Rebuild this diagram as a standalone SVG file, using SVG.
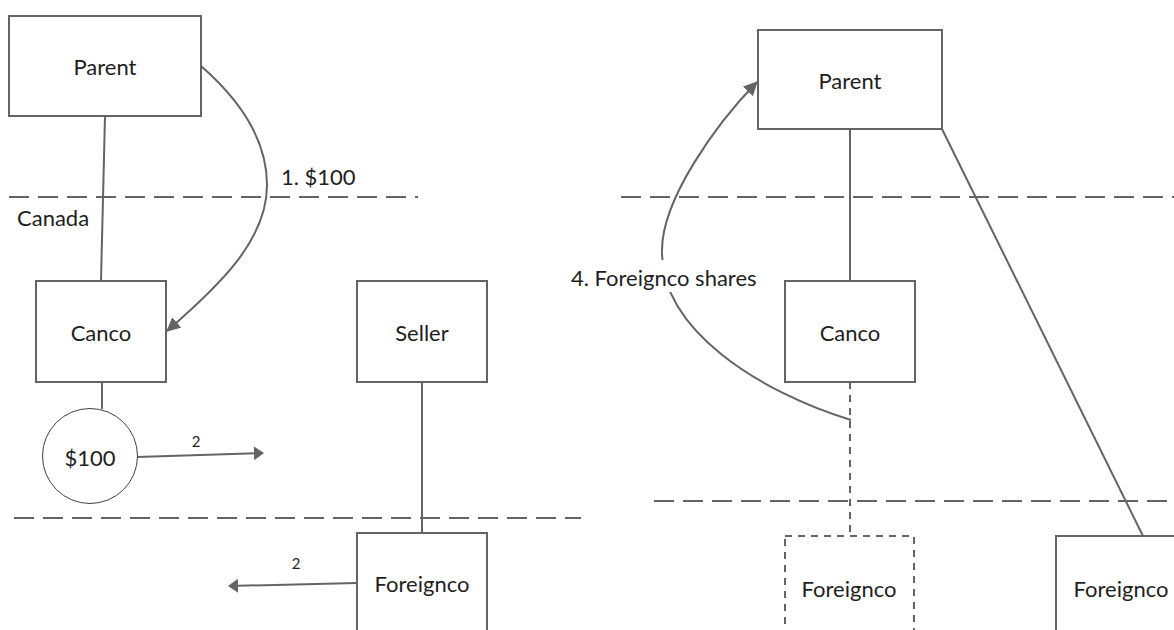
<svg xmlns="http://www.w3.org/2000/svg" width="1174" height="630" viewBox="0 0 1174 630">
<defs>
<style>
.box{fill:#fff;stroke:#646464;stroke-width:2}
.dbox{fill:#fff;stroke:#646464;stroke-width:2;stroke-dasharray:7 6}
.circ{fill:#fff;stroke:#404040;stroke-width:1}
.ln{fill:none;stroke:#646464;stroke-width:2}
.dl{fill:none;stroke:#646464;stroke-width:2;stroke-dasharray:7 6}
.hd{fill:none;stroke:#646464;stroke-width:2;stroke-dasharray:20 9}
.t{font-family:Lato,"Open Sans",sans-serif;font-size:22px;fill:#1e1e1e;dominant-baseline:central}
.c{text-anchor:middle}
.s{font-family:Lato,"Open Sans",sans-serif;font-size:15px;fill:#1e1e1e;text-anchor:middle;dominant-baseline:central}
</style>
<marker id="ah" markerUnits="userSpaceOnUse" viewBox="0 0 10 14" markerWidth="10" markerHeight="14" refX="9" refY="7" orient="auto">
<path d="M0,0 L10,7 L0,14 z" fill="#646464"/>
</marker>
<marker id="ahc" markerUnits="userSpaceOnUse" viewBox="0 0 14 14" markerWidth="14" markerHeight="14" refX="13" refY="7" orient="auto">
<path d="M0,0 L14,7 L0,14 z" fill="#646464"/>
</marker>
</defs>
<rect width="1174" height="630" fill="#fff"/>

<g id="boundaries">
<line class="hd" x1="9" y1="197" x2="418" y2="197"/>
<line class="hd" x1="14" y1="518" x2="581" y2="518"/>
<line class="hd" x1="621" y1="197" x2="1174" y2="197"/>
<line class="hd" x1="654" y1="501" x2="1174" y2="501"/>
</g>

<g id="connectors">
<line class="ln" x1="105" y1="116" x2="101" y2="281"/>
<line class="ln" x1="102" y1="382" x2="102" y2="409"/>
<line class="ln" x1="422" y1="382" x2="422" y2="533"/>
<path class="ln" d="M201,66 C240,100 267,140 267,185 C267,240 220,285 167,331" marker-end="url(#ahc)"/>
<line class="ln" x1="137" y1="457" x2="263" y2="453" marker-end="url(#ah)"/>
<line class="ln" x1="357" y1="583" x2="229" y2="586" marker-end="url(#ah)"/>
<line class="ln" x1="850" y1="129" x2="850" y2="281"/>
<line class="dl" x1="850" y1="382" x2="850" y2="536"/>
<line class="ln" x1="942" y1="129" x2="1143" y2="536"/>
<path class="ln" d="M851,420 C760,392 660,330 662,250 C662,200 715,125 757,82" marker-end="url(#ahc)"/>
</g>

<g id="labels">
<text class="t" x="17" y="217">Canada</text>
<text class="t" x="281" y="176">1. $100</text>
<text class="s" x="196" y="441">2</text>
<text class="s" x="296" y="563">2</text>
<rect x="566" y="260" width="194" height="32" fill="#fff"/>
<text class="t" x="571" y="277">4. Foreignco shares</text>
</g>

<g id="parent-left">
<rect class="box" x="9" y="16" width="192" height="100"/>
<text class="t c" x="105" y="66">Parent</text>
</g>
<g id="canco-left">
<rect class="box" x="36" y="281" width="130" height="101"/>
<text class="t c" x="101" y="332">Canco</text>
</g>
<g id="cash">
<circle class="circ" cx="90" cy="456" r="47.5"/>
<text class="t c" x="90" y="457">$100</text>
</g>
<g id="seller">
<rect class="box" x="357" y="281" width="130" height="101"/>
<text class="t c" x="422" y="332">Seller</text>
</g>
<g id="foreignco-left">
<rect class="box" x="357" y="533" width="130" height="110"/>
<text class="t c" x="422" y="583">Foreignco</text>
</g>
<g id="parent-right">
<rect class="box" x="758" y="30" width="184" height="99"/>
<text class="t c" x="850" y="80">Parent</text>
</g>
<g id="canco-right">
<rect class="box" x="785" y="281" width="130" height="101"/>
<text class="t c" x="850" y="332">Canco</text>
</g>
<g id="foreignco-dashed">
<rect class="dbox" x="785" y="536" width="129" height="110"/>
<text class="t c" x="849" y="588">Foreignco</text>
</g>
<g id="foreignco-right">
<rect class="box" x="1056" y="536" width="130" height="110"/>
<text class="t c" x="1121" y="588">Foreignco</text>
</g>
</svg>
